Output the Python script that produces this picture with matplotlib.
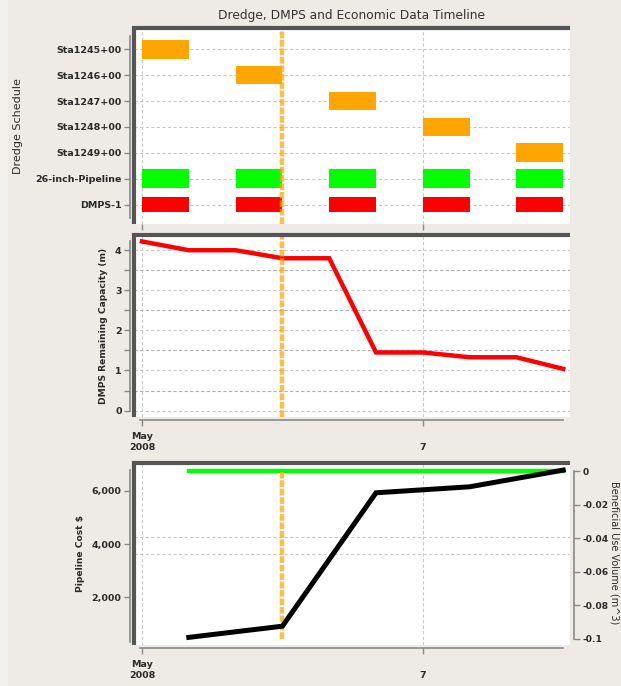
import matplotlib
matplotlib.use("Agg")
import matplotlib.pyplot as plt
import matplotlib.dates as mdates
import matplotlib.ticker as mticker
import matplotlib.patches as mpatches
import pandas as pd

# ---------------- data ----------------
tasks = ["Sta1245+00", "Sta1246+00", "Sta1247+00", "Sta1248+00", "Sta1249+00",
         "26-inch-Pipeline", "DMPS-1"]
period_starts = ["2008-05-01", "2008-05-03", "2008-05-05", "2008-05-07", "2008-05-09"]
period_stations = ["Sta1245+00", "Sta1246+00", "Sta1247+00", "Sta1248+00", "Sta1249+00"]
period_length_days = 1
pipeline_task = "26-inch-Pipeline"
dmps_task = "DMPS-1"

capacity_dates = ["2008-05-01", "2008-05-02", "2008-05-03", "2008-05-04", "2008-05-05",
                  "2008-05-06", "2008-05-07", "2008-05-08", "2008-05-09", "2008-05-10"]
capacity_values = [4.22, 4.0, 4.0, 3.8, 3.8, 1.45, 1.45, 1.33, 1.33, 1.04]

econ_dates = ["2008-05-02", "2008-05-04", "2008-05-06", "2008-05-08", "2008-05-10"]
pipeline_cost = [500, 920, 5925, 6150, 6776]
beneficial_volume = [0.0, 0.0, 0.0, 0.0, 0.0]

current_date = "2008-05-04"
tick_dates = ["2008-05-01", "2008-05-07"]
tick_labels = ["May\n2008", " \n7"]
capacity_ticks = [0, 1, 2, 3, 4]
cost_ticks = [2000, 4000, 6000]
volume_ticks = [0, -0.02, -0.04, -0.06, -0.08, -0.1]
cost_ref_lines = [4280, 3630]

# ---------------- styling ----------------
BG = "#EEEBE6"
FRAME = "#555555"
AXLINE = "#8A8A8A"
GRID = "#C9C9C9"
TXT = "#2A2A2A"
ORANGE = "#FFA500"
GREEN = "#00FF00"
RED = "#FF0000"

plt.rcParams["font.family"] = ["DejaVu Sans"]

W, H = 621, 686
fig = plt.figure(figsize=(W / 100, H / 100), dpi=100)
fig.patch.set_facecolor(BG)
# pale margin strip along the left edge of the canvas
fig.add_artist(mpatches.Rectangle((0, 0), 8 / W, 1, transform=fig.transFigure,
                                  facecolor="#F3F1EE", edgecolor="none", zorder=0))


def px_axes(left, top, right, bottom):
    return fig.add_axes([left / W, 1 - bottom / H, (right - left) / W, (bottom - top) / H])


def to_num(dates):
    return mdates.date2num(pd.to_datetime(dates).to_pydatetime())


x0 = to_num(["2008-05-01"])[0]
xlim = (x0 - 0.171, x0 + 9.145)
tick_x = to_num(tick_dates)
marker_x = to_num([current_date])[0]
MARKER_STYLE = dict(color=ORANGE, alpha=0.72, lw=3.2, ls=(0, (1.5, 0.4)), zorder=4)


def style_axis(ax, show_xaxis=True):
    ax.set_facecolor("white")
    ax.set_xlim(*xlim)
    for s in ("top", "right"):
        ax.spines[s].set_visible(False)
    ax.spines["left"].set_position(("outward", 3))
    ax.spines["left"].set_color(AXLINE)
    ax.spines["left"].set_linewidth(1.2)
    if show_xaxis:
        ax.spines["bottom"].set_position(("outward", 2))
        ax.spines["bottom"].set_color(AXLINE)
        ax.spines["bottom"].set_linewidth(1.2)
        ax.spines["bottom"].set_bounds(x0 - 0.05, x0 + 9)
    else:
        ax.spines["bottom"].set_visible(False)
    # heavy frame on the top and left edges of the plot area
    ax.plot([0, 0, 1], [0, 1, 1], transform=ax.transAxes, color=FRAME, lw=3,
            clip_on=False, solid_capstyle="butt", solid_joinstyle="miter", zorder=5)
    ax.set_xticks(tick_x)
    if show_xaxis:
        ax.set_xticklabels(tick_labels)
    else:
        ax.tick_params(axis="x", length=0, labelbottom=False)
    ax.tick_params(axis="both", labelsize=6.8, colors=TXT, length=4, width=1,
                   direction="out")
    ax.tick_params(axis="x", colors=AXLINE, labelcolor=TXT, pad=5)
    ax.tick_params(axis="y", colors=AXLINE, labelcolor=TXT, pad=2)
    for lab in ax.get_xticklabels() + ax.get_yticklabels():
        lab.set_fontweight("bold")
    ax.grid(axis="x", color=GRID, ls=(0, (3, 2)), lw=0.8)


# ---------------- panel 1: dredge schedule ----------------
ax1 = px_axes(134, 28, 570, 224)
style_axis(ax1, show_xaxis=False)
ypos = {t: i for i, t in enumerate(tasks)}
starts = to_num(period_starts)
for st, name in zip(starts, period_stations):
    ax1.barh(ypos[name], period_length_days, left=st, height=0.72, color=ORANGE, zorder=3)
    ax1.barh(ypos[pipeline_task], period_length_days, left=st, height=0.72, color=GREEN, zorder=3)
    ax1.barh(ypos[dmps_task], period_length_days, left=st, height=0.58, color=RED, zorder=3)
ax1.set_yticks(range(len(tasks)))
ax1.set_yticklabels(tasks)
for lab in ax1.get_yticklabels():
    lab.set_fontweight("bold")
ax1.set_ylim(6.75, -0.82)
ax1.spines["left"].set_bounds(-0.5, 6.5)
ax1.grid(axis="y", color=GRID, ls=(0, (3, 2)), lw=0.8)
ax1.set_axisbelow(True)
ax1.axvline(marker_x, **MARKER_STYLE)
ax1.set_ylabel("Dredge Schedule", fontsize=8, color=TXT)
ax1.yaxis.set_label_coords(-0.255, 0.5)
fig.text(352 / W, 1 - 15 / H, "Dredge, DMPS and Economic Data Timeline",
         ha="center", va="center", fontsize=8.8, color="#333333")

# ---------------- panel 2: DMPS remaining capacity ----------------
ax2 = px_axes(134, 235, 570, 417)
style_axis(ax2)
cap_x = to_num(capacity_dates)
ax2.plot(cap_x, capacity_values, color=RED, lw=3.2, solid_joinstyle="miter", zorder=3)
ax2.set_ylim(-0.16, 4.38)
ax2.set_yticks(capacity_ticks)
ax2.yaxis.set_minor_locator(mticker.MultipleLocator(0.5))
ax2.tick_params(axis="y", which="minor", length=4, width=1, colors=AXLINE)
ax2.spines["left"].set_bounds(0, max(capacity_values))
ax2.grid(axis="y", which="major", color=GRID, ls=(0, (3, 2)), lw=0.8)
ax2.grid(axis="y", which="minor", color="#B0B0B0", ls=(0, (3, 2)), lw=0.8)
ax2.set_axisbelow(True)
ax2.axvline(marker_x, **MARKER_STYLE)
ax2.set_ylabel("DMPS Remaining Capacity (m)", fontsize=6.6, fontweight="bold", color=TXT)
ax2.yaxis.set_label_coords(-0.06, 0.5)

# ---------------- panel 3: economics ----------------
ax3r = px_axes(134, 463, 570, 645)
ax3 = px_axes(134, 463, 570, 645)
ax3r.set_facecolor("white")
ax3.patch.set_visible(False)
ax3.set_zorder(ax3r.get_zorder() + 1)

econ_x = to_num(econ_dates)
ax3r.set_xlim(*xlim)
ax3r.set_ylim(-0.1036, 0.0048)
ax3r.plot(econ_x, beneficial_volume, color=GREEN, lw=3.2, zorder=3)
ax3r.vlines(marker_x, min(volume_ticks), max(volume_ticks), **MARKER_STYLE)
for v in ("top", "left", "bottom"):
    ax3r.spines[v].set_visible(False)
ax3r.spines["right"].set_position(("outward", 3))
ax3r.spines["right"].set_color(AXLINE)
ax3r.spines["right"].set_linewidth(1.2)
ax3r.spines["right"].set_bounds(min(volume_ticks), max(volume_ticks))
ax3r.yaxis.tick_right()
ax3r.set_yticks(volume_ticks)
ax3r.yaxis.set_major_formatter(mticker.FuncFormatter(
    lambda v, p: "0" if abs(v) < 1e-12 else f"{v:g}"))
ax3r.set_xticks([])
ax3r.tick_params(axis="y", labelsize=6.6, colors=AXLINE, labelcolor=TXT, length=4, width=1, pad=2)
for lab in ax3r.get_yticklabels():
    lab.set_fontweight("bold")

style_axis(ax3)
ax3.set_facecolor("none")
ax3.plot(econ_x, pipeline_cost, color="black", lw=3.6, solid_joinstyle="miter", zorder=3)
ax3.set_ylim(214, 7043)
ax3.set_yticks(cost_ticks)
ax3.yaxis.set_major_formatter(mticker.FuncFormatter(lambda v, p: f"{v:,.0f}"))
for lab in ax3.get_yticklabels():
    lab.set_fontweight("bold")
ax3.spines["left"].set_bounds(min(pipeline_cost) - 170, max(pipeline_cost))
for yv in cost_ref_lines:
    ax3r.axhline((yv - 214) / (7043 - 214) * (0.0048 + 0.1036) - 0.1036,
                 color=GRID, ls=(0, (3, 2)), lw=0.8, zorder=1)
ax3r.grid(False)
for xv in tick_x:
    ax3r.axvline(xv, color=GRID, ls=(0, (3, 2)), lw=0.8, zorder=1)
ax3.grid(False)
ax3.set_ylabel("Pipeline Cost $", fontsize=6.6, fontweight="bold", color=TXT)
ax3.yaxis.set_label_coords(-0.112, 0.5)
fig.text(615 / W, 1 - 553 / H, "Beneficial Use Volume (m^3)", rotation=-90,
         ha="center", va="center", fontsize=7, color=TXT)

fig.savefig("out.png", dpi=100, facecolor=BG)
